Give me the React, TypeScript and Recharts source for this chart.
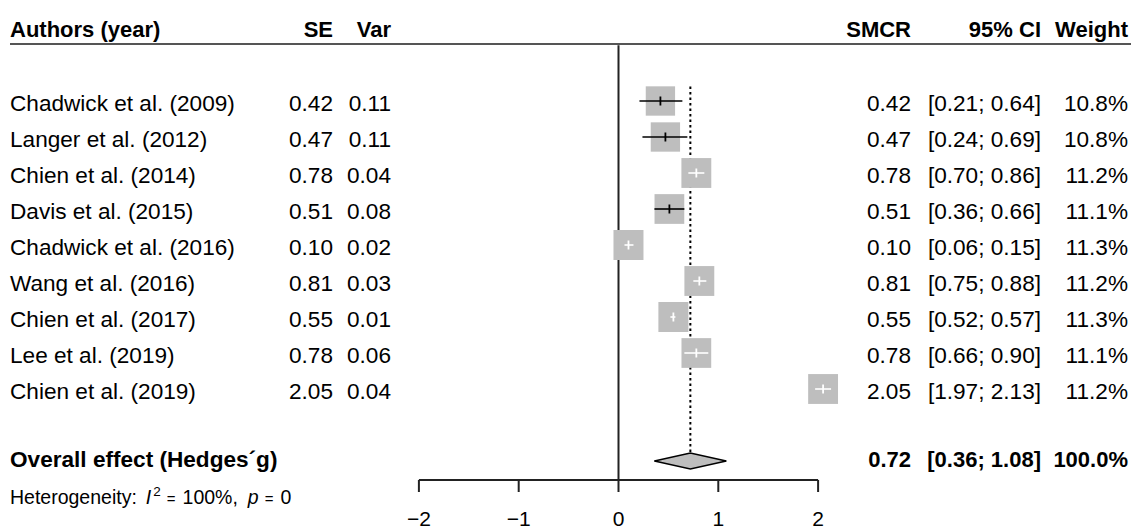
import { ComposedChart, Scatter, Area, XAxis, YAxis, ReferenceLine, ErrorBar } from "recharts";

// study table
const authors = [
  "Chadwick et al. (2009)",
  "Langer et al. (2012)",
  "Chien et al. (2014)",
  "Davis et al. (2015)",
  "Chadwick et al. (2016)",
  "Wang et al. (2016)",
  "Chien et al. (2017)",
  "Lee et al. (2019)",
  "Chien et al. (2019)",
];
const se = [0.42, 0.47, 0.78, 0.51, 0.1, 0.81, 0.55, 0.78, 2.05];
const variances = [0.11, 0.11, 0.04, 0.08, 0.02, 0.03, 0.01, 0.06, 0.04];
const smcr = [0.42, 0.47, 0.78, 0.51, 0.1, 0.81, 0.55, 0.78, 2.05];
const ciLow = [0.21, 0.24, 0.7, 0.36, 0.06, 0.75, 0.52, 0.66, 1.97];
const ciHigh = [0.64, 0.69, 0.86, 0.66, 0.15, 0.88, 0.57, 0.9, 2.13];
const weights = [10.8, 10.8, 11.2, 11.1, 11.3, 11.2, 11.3, 11.1, 11.2];

const overallLabel = "Overall effect (Hedges´g)";
const overallEst = 0.72;
const overallLow = 0.36;
const overallHigh = 1.08;
const overallWeight = 100.0;

const xTicks = [-2, -1, 0, 1, 2];
const leftHeaders = ["Authors (year)", "SE", "Var"];
const rightHeaders = ["SMCR", "95% CI", "Weight"];

// layout
const W = 1136;
const H = 529;
const ZERO_X = 618.5;
const PX_PER_UNIT = 99.8;
const FIRST_ROW_Y = 101;
const ROW_H = 36;
const HEADER_ROW = -2;
const OVERALL_ROW = 10;
const HET_ROW = 11;
const AXIS_ROW = (480 - FIRST_ROW_Y) / ROW_H;
const DIAMOND_HALF = 8 / ROW_H;
const BOX = 30;
const MAX_W = Math.max(...weights);

const AUTHOR_X = 10;
const SE_X = 333;
const VAR_X = 391;
const SMCR_X = 911;
const CI_X = 1041;
const WEIGHT_X = 1128;

const FONT = "'Liberation Sans', Arial, Helvetica, sans-serif";
const GREY = "#bebebe";
const BODY = 22.6;

const boxSize = (w: number) => BOX * Math.sqrt(w / MAX_W);

const rows = authors.map((a, i) => ({
  x: smcr[i],
  y: i,
  author: a,
  se: se[i],
  v: variances[i],
  lo: ciLow[i],
  hi: ciHigh[i],
  weight: weights[i],
  err: [smcr[i] - ciLow[i], ciHigh[i] - smcr[i]],
}));
// whisker is black when the CI sticks out of the box, white otherwise
const sticksOut = (r: (typeof rows)[number]) =>
  (r.hi - r.lo) * PX_PER_UNIT >= boxSize(r.weight) - 0.5;
const blackRows = rows.filter(sticksOut);
const whiteRows = rows.filter((r) => !sticksOut(r));

const diamond = [
  { x: overallLow, band: [OVERALL_ROW, OVERALL_ROW] },
  { x: overallEst, band: [OVERALL_ROW - DIAMOND_HALF, OVERALL_ROW + DIAMOND_HALF] },
  { x: overallHigh, band: [OVERALL_ROW, OVERALL_ROW] },
];

const f2 = (n: number) => n.toFixed(2);
const ci = (lo: number, hi: number) => `[${f2(lo)}; ${f2(hi)}]`;

function T({ x, y, anchor = "start", bold = false, size = BODY, children }: any) {
  return (
    <text x={x} y={y} textAnchor={anchor} fontFamily={FONT} fontSize={size} fontWeight={bold ? "bold" : "normal"} fill="#000">
      {children}
    </text>
  );
}

const HeaderShape = (p: any) => {
  const b = p.cy + 8;
  return (
    <g>
      <T x={AUTHOR_X} y={b} bold size={22}>{leftHeaders[0]}</T>
      <T x={SE_X} y={b} anchor="end" bold size={22}>{leftHeaders[1]}</T>
      <T x={VAR_X} y={b} anchor="end" bold size={22}>{leftHeaders[2]}</T>
      <T x={SMCR_X} y={b} anchor="end" bold size={22}>{rightHeaders[0]}</T>
      <T x={CI_X} y={b} anchor="end" bold size={22}>{rightHeaders[1]}</T>
      <T x={WEIGHT_X} y={b} anchor="end" bold size={22}>{rightHeaders[2]}</T>
      <line x1={10} x2={1131} y1={p.cy + 15} y2={p.cy + 15} stroke="#555" strokeWidth={2} />
    </g>
  );
};

const StudyShape = (p: any) => {
  const { cx, cy, payload: r } = p;
  const s = boxSize(r.weight);
  const b = cy + 10;
  return (
    <g>
      <rect x={cx - s / 2} y={cy - s / 2} width={s} height={s} fill={GREY} />
      <T x={AUTHOR_X} y={b}>{r.author}</T>
      <T x={SE_X} y={b} anchor="end">{f2(r.se)}</T>
      <T x={VAR_X} y={b} anchor="end">{f2(r.v)}</T>
      <T x={SMCR_X} y={b} anchor="end">{f2(r.x)}</T>
      <T x={CI_X} y={b} anchor="end">{ci(r.lo, r.hi)}</T>
      <T x={WEIGHT_X} y={b} anchor="end">{r.weight.toFixed(1)}%</T>
    </g>
  );
};

const tickMark = (color: string) => (p: any) =>
  <line x1={p.cx} x2={p.cx} y1={p.cy - 4.5} y2={p.cy + 4.5} stroke={color} strokeWidth={1.8} />;

const OverallShape = (p: any) => {
  const b = p.cy + 6;
  return (
    <g>
      <T x={AUTHOR_X} y={b} bold>{overallLabel}</T>
      <T x={SMCR_X} y={b} anchor="end" bold size={22}>{f2(overallEst)}</T>
      <T x={CI_X} y={b} anchor="end" bold size={22}>{ci(overallLow, overallHigh)}</T>
      <T x={WEIGHT_X} y={b} anchor="end" bold size={22}>{overallWeight.toFixed(1)}%</T>
    </g>
  );
};

const HetShape = (p: any) => (
  <T x={AUTHOR_X} y={p.cy + 7} size={19.5}>
    Heterogeneity:<tspan dx={9} fontStyle="italic">I</tspan>
    <tspan dx={2} dy={-8} fontSize={13.5}>2</tspan>
    <tspan dx={6} dy={8} fontSize={15}>=</tspan>
    <tspan dx={7}>100%,</tspan>
    <tspan dx={10} fontStyle="italic">p</tspan>
    <tspan dx={6} fontSize={15}>=</tspan>
    <tspan dx={7}>0</tspan>
  </T>
);

const AxisTick = (p: any) => (
  <g>
    <line x1={p.cx} x2={p.cx} y1={p.cy} y2={p.cy + 12} stroke="#222" strokeWidth={2} />
    <T x={p.cx} y={p.cy + 46} anchor="middle" size={21}>
      {p.payload.x < 0 ? `\u2212${Math.abs(p.payload.x)}` : p.payload.x}
    </T>
  </g>
);

export default function App() {
  return (
    <div style={{ position: "absolute", left: 0, top: 0, width: W, height: H, background: "#fff" }}>
      <ComposedChart width={W} height={H} margin={{ top: 0, right: 0, bottom: 0, left: 0 }}>
        <XAxis type="number" dataKey="x" domain={[-ZERO_X / PX_PER_UNIT, (W - ZERO_X) / PX_PER_UNIT]} allowDataOverflow hide />
        <YAxis
          type="number"
          dataKey="y"
          domain={[-FIRST_ROW_Y / ROW_H, (H - FIRST_ROW_Y) / ROW_H]}
          reversed
          allowDataOverflow
          hide
        />
        <ReferenceLine
          segment={[{ x: 0, y: HEADER_ROW + 0.45 }, { x: 0, y: AXIS_ROW }]}
          stroke="#222"
          strokeWidth={2}
        />
        <ReferenceLine
          segment={[{ x: overallEst, y: -0.4 }, { x: overallEst, y: OVERALL_ROW - DIAMOND_HALF }]}
          stroke="#000"
          strokeWidth={2}
          strokeDasharray="2.5 3"
        />
        <ReferenceLine
          segment={[{ x: xTicks[0], y: AXIS_ROW }, { x: xTicks[xTicks.length - 1], y: AXIS_ROW }]}
          stroke="#222"
          strokeWidth={2}
        />
        <Scatter data={[{ x: 0, y: HEADER_ROW }]} shape={HeaderShape} isAnimationActive={false} />
        <Scatter data={rows} shape={StudyShape} isAnimationActive={false} />
        <Scatter data={blackRows} shape={tickMark("#000")} isAnimationActive={false} zIndex={700}>
          <ErrorBar dataKey="err" direction="x" width={0} stroke="#000" strokeWidth={1.6} zIndex={700} />
        </Scatter>
        <Scatter data={whiteRows} shape={tickMark("#fff")} isAnimationActive={false} zIndex={700}>
          <ErrorBar dataKey="err" direction="x" width={0} stroke="#fff" strokeWidth={1.6} zIndex={700} />
        </Scatter>
        <Area
          data={diamond}
          dataKey="band"
          type="linear"
          fill={GREY}
          fillOpacity={1}
          stroke="#000"
          strokeWidth={1.5}
          isAnimationActive={false}
          dot={false}
          activeDot={false}
        />
        <Scatter data={[{ x: overallEst, y: OVERALL_ROW }]} shape={OverallShape} isAnimationActive={false} />
        <Scatter data={[{ x: 0, y: HET_ROW }]} shape={HetShape} isAnimationActive={false} />
        <Scatter data={xTicks.map((t) => ({ x: t, y: AXIS_ROW }))} shape={AxisTick} isAnimationActive={false} />
      </ComposedChart>
    </div>
  );
}
